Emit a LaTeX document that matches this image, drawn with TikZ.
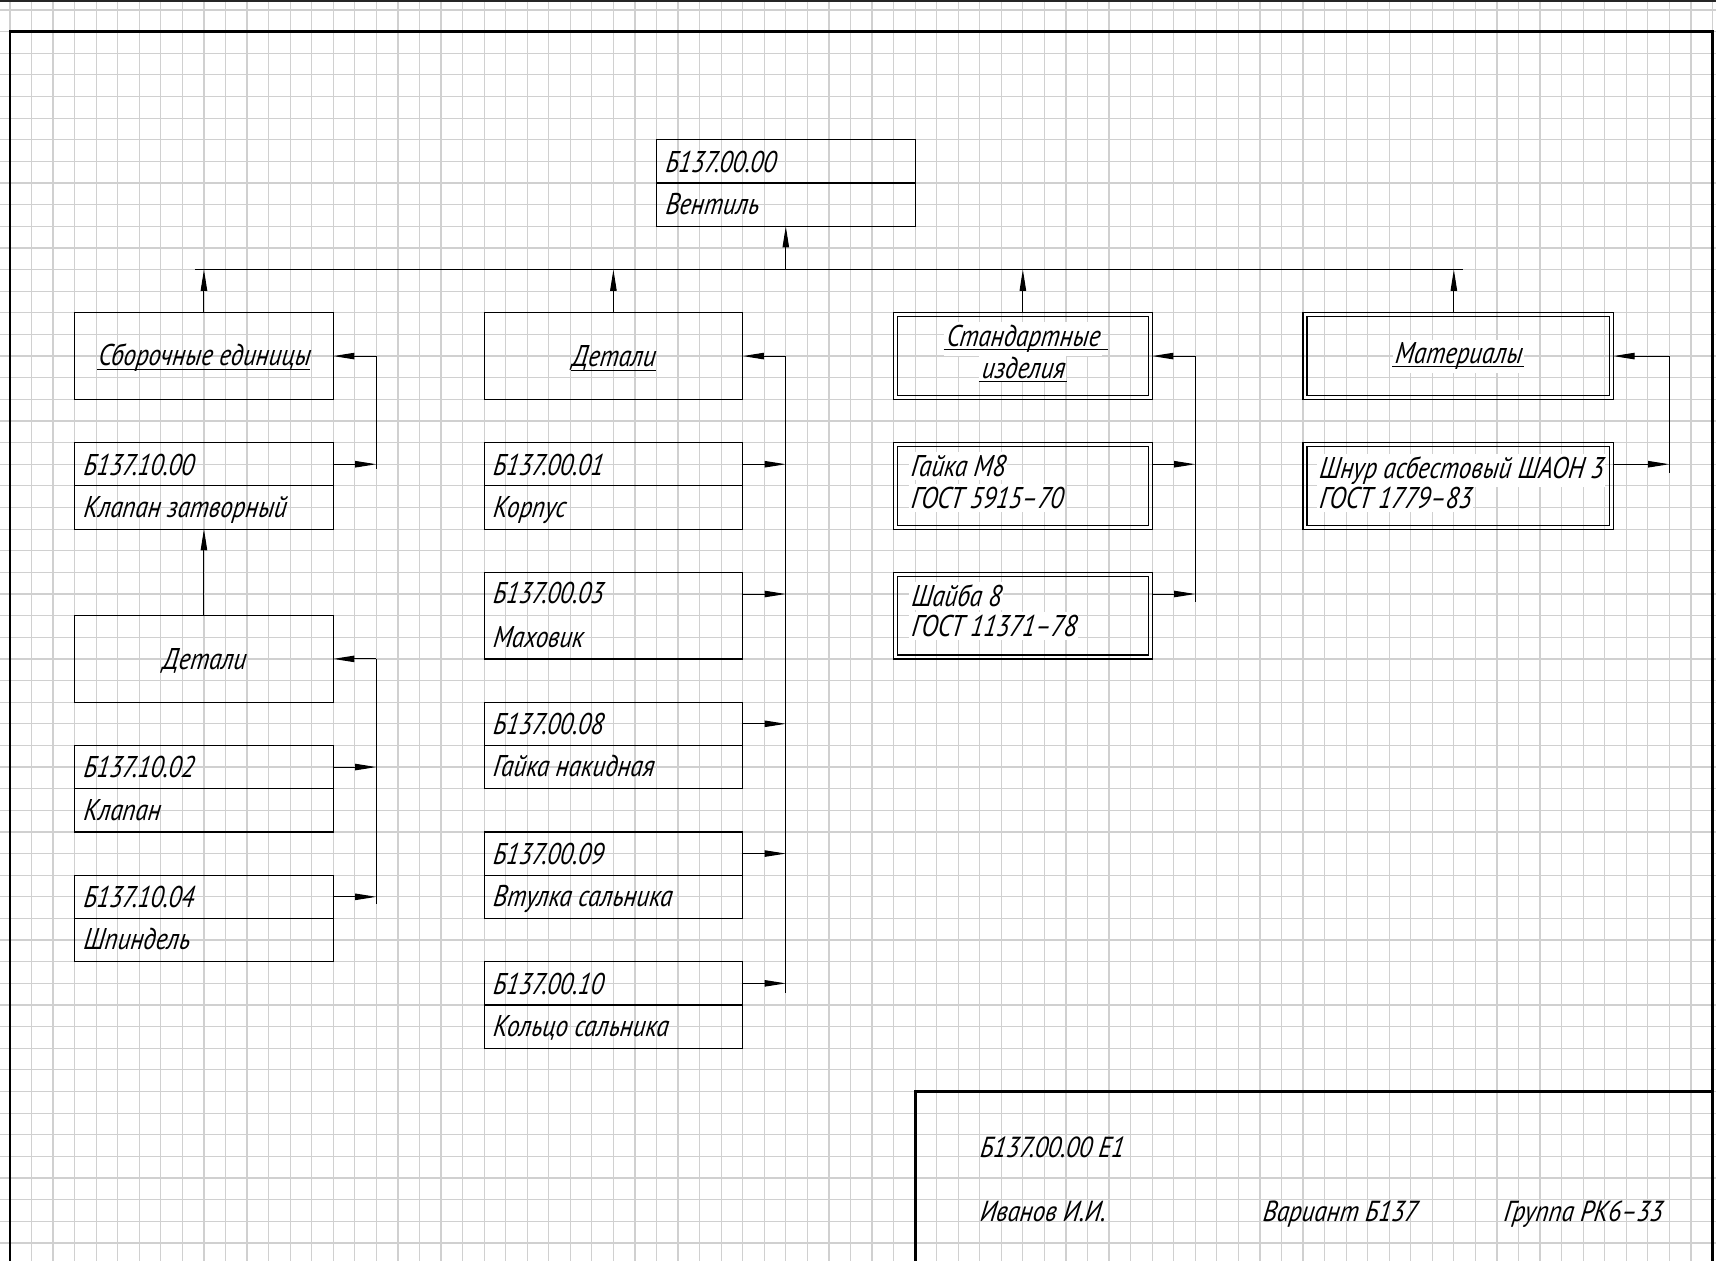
\documentclass[tikz,border=0pt]{standalone}
\usepackage{fontspec}
\setmainfont{PT Sans}
\newfontfamily\gostN{PT Sans}[FakeStretch=0.83, ItalicFeatures={FakeSlant=0.12}]
\newfontfamily\gostC{PT Sans}[FakeStretch=0.82, ItalicFeatures={FakeSlant=0.12}]
\newfontfamily\gostT{PT Sans}[FakeStretch=0.86, ItalicFeatures={FakeSlant=0.12}]
\usetikzlibrary{arrows.meta,calc}
\definecolor{gridc}{RGB}{208,208,208}
\def\cx{10.775pt}
\def\cy{10.815pt}
\newcommand\innerbox[1]{\draw[line width=0.6pt] ([shift={(2pt,-2pt)}]#1.north west) rectangle ([shift={(-2pt,2pt)}]#1.south east);}
\newcommand\divline[1]{\draw[line width=0.6pt] (#1.west) -- (#1.east);}
\newcommand\uline[1]{\draw[line width=0.5pt] ([yshift=-1.6pt]#1.base west) -- ([yshift=-1.6pt]#1.base east);}
\tikzset{
  gridln/.style={draw=gridc, line width=0.6pt},
  frm/.style={line width=1.4pt},
  bx/.style={draw, line width=0.6pt, minimum width={12*\cx}, minimum height={4*\cy}, inner sep=0pt, outer sep=0pt},
  lnk/.style={line width=0.5pt},
  ar/.style={line width=0.5pt, -{Triangle[length=10.6pt,width=3.2pt]}},
  codet/.style={font=\gostC\itshape\fontsize{15}{17}\selectfont, inner sep=0pt, anchor=base west},
  namet/.style={font=\gostN\itshape\fontsize{15}{17}\selectfont, inner sep=0pt, anchor=base west},
  catt/.style={font=\gostN\itshape\fontsize{15}{17}\selectfont, inner sep=0pt, anchor=base},
  wbg/.style={fill=white, inner xsep=1pt, inner ysep=1.5pt},
  titt/.style={font=\gostT\itshape\fontsize{14.5}{17}\selectfont, inner sep=0pt, anchor=base west},
}
\begin{document}
\begin{tikzpicture}[x=10.775pt, y=-10.815pt]
\clip (-0.464,-0.4623) rectangle (79.165,57.836);
\fill[white] (-0.464,-0.4623) rectangle (79.165,57.836);
% grid
\foreach \i in {0,...,79} \draw[gridln] (\i,-1) -- (\i,59);
\foreach \j in {0,...,57} \draw[gridln] (-1,\j) -- (80,\j);
\draw[line width=1pt, black!85] (-1,-0.42) -- (80,-0.42);
% frame and title block
\draw[frm] (0,59) -- (0,1) -- (79,1) -- (79,59);
\draw[frm] (42,59) -- (42,50) -- (79,50);
\node[titt] (t1) at (44.97,53.07) {Б137.00.00 Е1};
\node[titt] (t2) at (44.97,56.03) {Иванов И.И.};
\node[titt] (t3) at (58.1,56.03) {Вариант Б137};
\node[titt] (t4) at (69.28,56.03) {Группа РК6–33};

% top box
\node[bx] (top) at (36,8) {}; \divline{top}
\node[codet] (topc) at (30.38,7.5) {Б137.00.00};
\node[namet] (topn) at (30.38,9.45) {Вентиль};

% left column
\node[bx] (sb) at (9,16) {};
\node[catt] (sbt) at (9,16.45) {Сборочные единицы}; \uline{sbt}
\node[bx] (k1000) at (9,22) {}; \divline{k1000}
\node[codet] (k1000c) at (3.38,21.5) {Б137.10.00};
\node[namet] (k1000n) at (3.38,23.45) {Клапан затворный};
\node[bx] (detL) at (9,30) {};
\node[catt] (detLt) at (9,30.5) {Детали};
\node[bx] (k1002) at (9,36) {}; \divline{k1002}
\node[codet] (k1002c) at (3.38,35.5) {Б137.10.02};
\node[namet] (k1002n) at (3.38,37.45) {Клапан};
\node[bx] (k1004) at (9,42) {}; \divline{k1004}
\node[codet] (k1004c) at (3.38,41.5) {Б137.10.04};
\node[namet] (k1004n) at (3.38,43.45) {Шпиндель};

% middle column
\node[bx] (det) at (28,16) {};
\node[catt] (dett) at (28,16.5) {Детали}; \uline{dett}
\node[bx] (k01) at (28,22) {}; \divline{k01}
\node[codet] (k01c) at (22.38,21.5) {Б137.00.01};
\node[namet] (k01n) at (22.38,23.45) {Корпус};
\node[bx] (k03) at (28,28) {};
\node[codet] (k03c) at (22.38,27.45) {Б137.00.03};
\node[namet] (k03n) at (22.38,29.45) {Маховик};
\node[bx] (k08) at (28,34) {}; \divline{k08}
\node[codet] (k08c) at (22.38,33.5) {Б137.00.08};
\node[namet] (k08n) at (22.38,35.45) {Гайка накидная};
\node[bx] (k09) at (28,40) {}; \divline{k09}
\node[codet] (k09c) at (22.38,39.5) {Б137.00.09};
\node[namet] (k09n) at (22.38,41.45) {Втулка сальника};
\node[bx] (k10) at (28,46) {}; \divline{k10}
\node[codet] (k10c) at (22.38,45.5) {Б137.00.10};
\node[namet] (k10n) at (22.38,47.45) {Кольцо сальника};

% standard column
\node[bx] (std) at (47,16) {}; \innerbox{std}
\node[catt, wbg] (stdt1) at (47,15.57) {Стандартные};
\node[catt, wbg] (stdt2) at (47,17.03) {изделия};
\draw[line width=0.5pt] ([yshift=-1.6pt]stdt1.base west) -- ([xshift=3pt,yshift=-1.6pt]stdt1.base east);
\uline{stdt2}
\node[bx] (gm8) at (47,22) {}; \innerbox{gm8}
\node[namet, wbg] (gm8a) at (41.68,21.57) {Гайка М8};
\node[namet, wbg] (gm8b) at (41.68,23.04) {ГОСТ 5915–70};
\node[bx] (sh8) at (47,28) {}; \innerbox{sh8}
\node[namet, wbg] (sh8a) at (41.7,27.59) {Шайба 8};
\node[namet, wbg] (sh8b) at (41.7,28.97) {ГОСТ 11371–78};

% materials column
\node[bx, minimum width={14.4*\cx}] (mat) at (67.2,16) {}; \innerbox{mat}
\node[catt, wbg] (matt) at (67.2,16.35) {Материалы}; \uline{matt}
\node[bx, minimum width={14.4*\cx}] (shn) at (67.2,22) {}; \innerbox{shn}
\node[namet, wbg] (shna) at (60.63,21.65) {Шнур асбестовый ШАОН 3};
\node[namet, wbg] (shnb) at (60.63,23.04) {ГОСТ 1779–83};

% bus
\coordinate (busL) at (8.58,12);
\coordinate (busR) at (67.42,12);
\draw[lnk] (busL) -- (busR);
\draw[ar] (top.south |- busL) -- (top.south);
\draw[ar] (sb.north) -- (sb.north |- busL);
\draw[ar] (det.north) -- (det.north |- busL);
\draw[ar] (std.north) -- (std.north |- busL);
\coordinate (matup) at (67,14);
\draw[ar] (matup) -- (matup |- busL);

% left upper sidebar
\coordinate (s1) at (17,16);
\coordinate (s1e) at (17,21.2);
\draw[lnk] (s1) -- (s1e);
\draw[ar] (s1) -- (sb.east);
\coordinate (k1000a) at ($(k1000.north east)+(0,1)$);
\draw[ar] (k1000a) -- (k1000a -| s1);
\draw[ar] (detL.north) -- (k1000.south);

% left lower sidebar
\coordinate (s2) at (17,30);
\coordinate (s2e) at (17,41.35);
\draw[lnk] (s2) -- (s2e);
\draw[ar] (s2) -- (detL.east);
\foreach \n in {k1002,k1004}{
  \coordinate (\n a) at ($(\n.north east)+(0,1)$);
  \draw[ar] (\n a) -- (\n a -| s2);
}

% middle sidebar
\coordinate (s3) at (36,16);
\coordinate (s3e) at (36,45.45);
\draw[lnk] (s3) -- (s3e);
\draw[ar] (s3) -- (det.east);
\foreach \n in {k01,k03,k08,k09,k10}{
  \coordinate (\n a) at ($(\n.north east)+(0,1)$);
  \draw[ar] (\n a) -- (\n a -| s3);
}

% standard sidebar
\coordinate (s4) at (55,16);
\coordinate (s4e) at (55,27.35);
\draw[lnk] (s4) -- (s4e);
\draw[ar] (s4) -- (std.east);
\foreach \n in {gm8,sh8}{
  \coordinate (\n a) at ($(\n.north east)+(0,1)$);
  \draw[ar] (\n a) -- (\n a -| s4);
}

% materials sidebar
\coordinate (s5) at (77,16);
\coordinate (s5e) at (77,21.42);
\draw[lnk] (s5) -- (s5e);
\draw[ar] (s5) -- (mat.east);
\coordinate (shna1) at ($(shn.north east)+(0,1)$);
\draw[ar] (shna1) -- (shna1 -| s5);
\end{tikzpicture}
\end{document}
